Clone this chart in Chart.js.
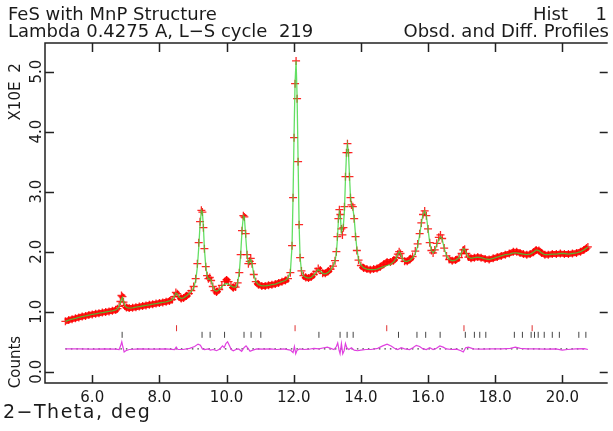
<!DOCTYPE html>
<html>
<head>
<meta charset="utf-8">
<script src="https://cdn.jsdelivr.net/npm/chart.js@4.4.1/dist/chart.umd.min.js"></script>
<style>
  html, body { margin: 0; padding: 0; background: #fff; }
  canvas { display: block; }
</style>
</head>
<body>
<canvas id="profile" width="613" height="431" style="width:613px;height:431px"></canvas>
<script>
// 2-theta (deg) and counts in units of 100
const twoTheta = [5.20,5.30,5.40,5.50,5.60,5.70,5.80,5.90,6.00,6.10,6.20,6.30,6.40,6.50,6.60,6.70,6.75,6.80,6.84,6.87,6.90,6.93,6.97,7.02,7.10,7.20,7.30,7.40,7.50,7.60,7.70,7.80,7.90,8.00,8.10,8.20,8.30,8.38,8.44,8.49,8.53,8.58,8.65,8.72,8.80,8.88,8.95,9.02,9.08,9.13,9.17,9.21,9.25,9.28,9.31,9.34,9.38,9.42,9.46,9.50,9.54,9.59,9.64,9.70,9.78,9.86,9.94,10.00,10.06,10.13,10.20,10.27,10.33,10.38,10.42,10.46,10.50,10.53,10.57,10.61,10.65,10.69,10.72,10.76,10.81,10.87,10.95,11.05,11.15,11.25,11.35,11.45,11.55,11.65,11.75,11.83,11.90,11.95,11.98,12.01,12.04,12.07,12.10,12.13,12.16,12.19,12.23,12.29,12.36,12.44,12.52,12.60,12.67,12.73,12.79,12.86,12.94,13.02,13.10,13.17,13.23,13.27,13.30,13.33,13.36,13.39,13.42,13.45,13.48,13.51,13.54,13.57,13.60,13.63,13.66,13.69,13.72,13.76,13.80,13.84,13.88,13.93,14.00,14.08,14.18,14.28,14.38,14.48,14.58,14.68,14.78,14.88,14.97,15.05,15.10,15.14,15.18,15.23,15.30,15.38,15.46,15.54,15.62,15.69,15.75,15.80,15.85,15.90,15.95,16.00,16.05,16.10,16.15,16.20,16.26,16.32,16.37,16.42,16.48,16.55,16.63,16.72,16.82,16.92,17.00,17.05,17.09,17.14,17.20,17.28,17.38,17.48,17.58,17.70,17.82,17.94,18.06,18.18,18.30,18.42,18.54,18.64,18.74,18.84,18.94,19.04,19.14,19.22,19.30,19.38,19.48,19.58,19.70,19.82,19.94,20.06,20.18,20.30,20.42,20.54,20.64,20.72,20.76];

const obsCounts = [0.84,0.86,0.875,0.89,0.905,0.92,0.93,0.945,0.955,0.965,0.975,0.985,0.995,1.005,1.015,1.03,1.05,1.09,1.17,1.27,1.25,1.16,1.10,1.07,1.06,1.065,1.075,1.085,1.095,1.105,1.115,1.125,1.135,1.145,1.155,1.165,1.18,1.20,1.25,1.32,1.30,1.25,1.22,1.23,1.26,1.30,1.35,1.42,1.55,1.80,2.15,2.50,2.69,2.66,2.40,2.05,1.75,1.60,1.55,1.57,1.52,1.42,1.35,1.33,1.37,1.44,1.50,1.53,1.50,1.44,1.40,1.41,1.48,1.65,1.95,2.35,2.60,2.58,2.30,1.95,1.80,1.84,1.89,1.80,1.62,1.50,1.45,1.43,1.43,1.44,1.45,1.46,1.48,1.50,1.52,1.55,1.65,2.10,2.90,3.90,4.80,5.18,4.55,3.50,2.45,1.90,1.68,1.60,1.57,1.56,1.58,1.62,1.67,1.72,1.69,1.64,1.64,1.67,1.71,1.76,1.85,2.00,2.25,2.55,2.70,2.62,2.38,2.28,2.40,2.75,3.25,3.65,3.80,3.65,3.25,2.90,2.78,2.75,2.55,2.25,2.02,1.86,1.77,1.73,1.71,1.70,1.71,1.72,1.75,1.79,1.83,1.83,1.85,1.90,1.96,2.00,1.97,1.89,1.84,1.84,1.87,1.92,2.01,2.13,2.30,2.48,2.62,2.68,2.60,2.38,2.15,2.02,1.98,2.03,2.14,2.24,2.28,2.22,2.06,1.93,1.87,1.85,1.86,1.90,1.97,2.03,2.04,1.97,1.91,1.89,1.90,1.91,1.90,1.88,1.87,1.89,1.91,1.93,1.95,1.97,2.00,2.00,1.98,1.96,1.95,1.96,1.99,2.03,2.02,1.98,1.95,1.95,1.96,1.96,1.97,1.96,1.96,1.97,1.98,2.00,2.03,2.06,2.08];

const calcCounts = [0.84,0.86,0.875,0.89,0.905,0.92,0.93,0.945,0.955,0.965,0.975,0.985,0.995,1.005,1.015,1.03,1.05,1.09,1.15,1.21,1.24,1.17,1.10,1.07,1.06,1.065,1.075,1.085,1.095,1.105,1.115,1.125,1.135,1.145,1.155,1.165,1.18,1.20,1.25,1.31,1.30,1.25,1.22,1.23,1.26,1.30,1.34,1.40,1.52,1.74,2.06,2.45,2.69,2.66,2.42,2.05,1.76,1.60,1.54,1.55,1.52,1.43,1.36,1.34,1.37,1.42,1.46,1.47,1.46,1.43,1.41,1.41,1.48,1.66,1.96,2.35,2.60,2.58,2.25,1.95,1.80,1.83,1.87,1.80,1.62,1.50,1.45,1.43,1.43,1.44,1.45,1.46,1.48,1.50,1.52,1.56,1.66,2.10,2.92,3.95,4.82,5.18,4.60,3.52,2.45,1.90,1.68,1.60,1.57,1.56,1.57,1.61,1.66,1.70,1.68,1.64,1.63,1.65,1.70,1.76,1.84,1.98,2.20,2.52,2.66,2.58,2.32,2.38,2.45,2.68,3.20,3.62,3.78,3.65,3.27,2.92,2.78,2.73,2.56,2.28,2.05,1.87,1.78,1.73,1.71,1.70,1.70,1.71,1.73,1.75,1.77,1.79,1.83,1.89,1.96,2.00,1.97,1.89,1.84,1.84,1.86,1.90,1.97,2.09,2.28,2.47,2.62,2.68,2.60,2.37,2.15,2.02,1.98,2.02,2.12,2.20,2.25,2.21,2.06,1.93,1.87,1.85,1.86,1.90,1.99,2.05,2.04,1.97,1.91,1.89,1.90,1.91,1.90,1.88,1.87,1.89,1.91,1.93,1.95,1.96,1.98,1.98,1.97,1.96,1.95,1.96,1.99,2.03,2.02,1.98,1.95,1.95,1.96,1.96,1.97,1.97,1.96,1.97,1.98,2.00,2.03,2.06,2.08];

// difference curve (obs - calc, drawn about its own zero line)
const diffTheta = [5.20,5.60,6.00,6.40,6.70,6.80,6.85,6.88,6.91,6.95,7.00,7.10,7.40,7.80,8.20,8.45,8.50,8.55,8.70,8.90,9.05,9.15,9.22,9.28,9.35,9.45,9.52,9.60,9.70,9.80,9.88,9.93,9.98,10.03,10.08,10.14,10.20,10.28,10.36,10.45,10.52,10.58,10.64,10.70,10.78,10.90,11.10,11.30,11.50,11.70,11.90,11.98,12.02,12.06,12.10,12.18,12.30,12.45,12.60,12.75,12.90,13.00,13.10,13.20,13.27,13.31,13.35,13.38,13.42,13.46,13.50,13.54,13.58,13.64,13.72,13.80,13.90,14.00,14.15,14.30,14.50,14.65,14.78,14.90,15.00,15.10,15.20,15.30,15.45,15.55,15.65,15.75,15.85,15.95,16.05,16.15,16.25,16.35,16.45,16.55,16.70,16.85,16.98,17.05,17.12,17.20,17.35,17.60,17.90,18.20,18.45,18.60,18.75,18.95,19.20,19.50,19.80,20.00,20.15,20.40,20.65,20.76];
const diffCounts = [0.38,0.38,0.378,0.38,0.375,0.37,0.44,0.50,0.42,0.33,0.35,0.37,0.38,0.375,0.38,0.37,0.41,0.37,0.37,0.39,0.42,0.46,0.44,0.38,0.37,0.38,0.36,0.37,0.35,0.38,0.43,0.40,0.47,0.50,0.44,0.37,0.35,0.37,0.38,0.34,0.40,0.43,0.39,0.34,0.36,0.38,0.375,0.38,0.37,0.38,0.36,0.32,0.42,0.30,0.36,0.38,0.37,0.375,0.39,0.38,0.40,0.41,0.39,0.37,0.42,0.48,0.36,0.30,0.47,0.30,0.35,0.47,0.40,0.37,0.40,0.36,0.35,0.36,0.37,0.37,0.39,0.43,0.46,0.43,0.39,0.37,0.40,0.38,0.37,0.40,0.44,0.42,0.38,0.37,0.40,0.37,0.39,0.43,0.41,0.38,0.37,0.375,0.35,0.33,0.40,0.41,0.38,0.375,0.38,0.38,0.39,0.41,0.39,0.38,0.38,0.375,0.38,0.36,0.37,0.38,0.385,0.37];
const diffZero = 0.38;

// reflection positions (deg), two phases
const reflRed = [8.51, 12.04, 14.77, 17.07, 19.10];
const reflBlack = [6.89, 9.27, 9.51, 9.94, 10.52, 10.73, 11.02, 12.75, 13.38, 13.59, 13.77, 15.12, 15.67, 15.93, 16.36, 17.11, 17.38, 17.54, 17.72, 18.57, 18.81, 19.07, 19.17, 19.28, 19.46, 19.70, 19.91, 20.49, 20.70];

const xTickValues = [6, 8, 10, 12, 14, 16, 18, 20];
const yTickValues = [0, 1, 2, 3, 4, 5];

const pts = (xs, ys) => xs.map((v, i) => ({ x: v, y: ys[i] }));

const FONT = '"DejaVu Sans", sans-serif';
const INK = '#1a1a1a';

// thick red band only where the profile is flat; steep peak flanks show just the + marks
const bandColor = (c) => {
  const dx = Math.abs(c.p1.x - c.p0.x), dy = Math.abs(c.p1.y - c.p0.y);
  return dy > dx * 1.2 ? 'rgba(0,0,0,0)' : 'rgba(255,10,10,0.95)';
};

const frame = {
  id: 'frame',
  afterDraw(chart) {
    const { ctx, chartArea: a, scales: { x, y } } = chart;
    ctx.save();
    ctx.strokeStyle = '#222';
    ctx.lineWidth = 1.5;
    ctx.beginPath();
    ctx.moveTo(a.right, a.top); ctx.lineTo(a.left, a.top);
    ctx.lineTo(a.left, a.bottom); ctx.lineTo(a.right, a.bottom);
    ctx.stroke();

    ctx.beginPath();
    xTickValues.forEach((v) => {
      const px = Math.round(x.getPixelForValue(v)) + 0.5;
      ctx.moveTo(px, a.top); ctx.lineTo(px, a.top + 9);
      ctx.moveTo(px, a.bottom); ctx.lineTo(px, a.bottom - 8);
    });
    yTickValues.forEach((v) => {
      const py = Math.round(y.getPixelForValue(v)) + 0.5;
      ctx.moveTo(a.left, py); ctx.lineTo(a.left + 9, py);
      ctx.moveTo(a.right, py); ctx.lineTo(a.right - 8, py);
    });
    ctx.stroke();

    ctx.fillStyle = INK;
    ctx.font = '15px ' + FONT;
    ctx.textAlign = 'center';
    ctx.textBaseline = 'alphabetic';
    xTickValues.forEach((v) => ctx.fillText(v.toFixed(1), x.getPixelForValue(v), 402));

    yTickValues.forEach((v) => {
      ctx.save();
      ctx.translate(37, y.getPixelForValue(v));
      ctx.rotate(-Math.PI / 2);
      ctx.textBaseline = 'middle';
      ctx.fillText(v.toFixed(1), 0, 0);
      ctx.restore();
    });

    // rotated axis captions
    ctx.save();
    ctx.translate(16, 0);
    ctx.rotate(-Math.PI / 2);
    ctx.textBaseline = 'middle';
    ctx.textAlign = 'center';
    ctx.fillText('Counts', -362, 0);
    ctx.fillText('X10E', -101, 0);
    ctx.fillText('2', -68, 0);
    ctx.restore();

    ctx.font = '18px ' + FONT;
    ctx.textAlign = 'left';
    ctx.fillText('FeS with MnP Structure', 8, 20);
    ctx.fillText('Lambda 0.4275 A, L\u2212S cycle  219', 8, 37);
    ctx.textAlign = 'right';
    ctx.fillText('Hist', 568, 20);
    ctx.fillText('1', 607, 20);
    ctx.fillText('Obsd. and Diff. Profiles', 609, 37);

    ctx.textAlign = 'left';
    ctx.font = '19px ' + FONT;
    ctx.letterSpacing = '1.5px';
    ctx.fillText('2\u2212Theta, deg', 3, 418);
    ctx.restore();
  }
};

new Chart(document.getElementById('profile'), {
  type: 'scatter',
  data: {
    datasets: [
      {
        label: 'Calc',
        data: pts(twoTheta, calcCounts),
        showLine: true,
        borderColor: 'rgba(60,215,60,0.8)',
        borderWidth: 1.3,
        pointRadius: 0,
      },
      {
        label: 'Obsd',
        data: pts(twoTheta, obsCounts),
        showLine: true,
        borderWidth: 6,
        borderColor: 'rgba(255,10,10,0.95)',
        segment: { borderColor: bandColor },
        pointStyle: 'cross',
        pointRadius: 4,
        pointBorderWidth: 1.3,
        pointBorderColor: 'rgba(255,0,0,0.85)',
      },
      {
        label: 'Diff',
        data: pts(diffTheta, diffCounts),
        showLine: true,
        borderColor: '#e040e0',
        borderWidth: 1.2,
        pointRadius: 0,
      },
      {
        label: 'Zero',
        data: [{ x: diffTheta[0], y: diffZero }, { x: diffTheta[diffTheta.length - 1], y: diffZero }],
        showLine: true,
        borderColor: '#444',
        borderWidth: 1.2,
        borderDash: [1.5, 4],
        pointRadius: 0,
      },
      {
        label: 'Phase 1',
        data: reflRed.map((v) => ({ x: v, y: 0.725 })),
        pointStyle: 'line',
        rotation: 90,
        pointRadius: 3,
        pointBorderWidth: 1,
        pointBorderColor: '#e03030',
      },
      {
        label: 'Phase 2',
        data: reflBlack.map((v) => ({ x: v, y: 0.615 })),
        pointStyle: 'line',
        rotation: 90,
        pointRadius: 3,
        pointBorderWidth: 1,
        pointBorderColor: '#444',
      },
    ],
  },
  options: {
    responsive: false,
    devicePixelRatio: 1,
    animation: false,
    events: [],
    layout: { padding: { left: 45, top: 43, right: 0, bottom: 48 } },
    scales: {
      x: { type: 'linear', display: false, min: 4.593, max: 21.35 },
      y: { type: 'linear', display: false, min: -0.188, max: 5.478 },
    },
    plugins: { legend: { display: false }, tooltip: { enabled: false } },
  },
  plugins: [frame],
});
</script>
</body>
</html>
